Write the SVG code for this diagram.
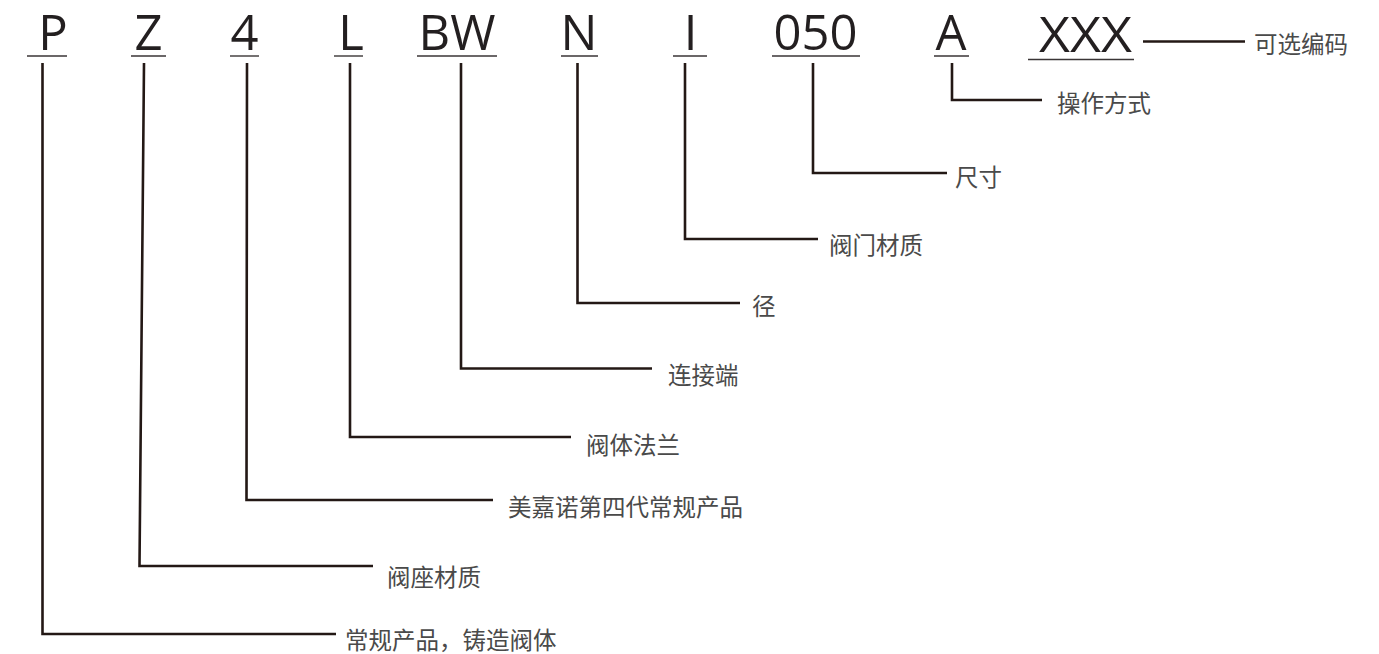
<svg xmlns="http://www.w3.org/2000/svg" width="1379" height="654" viewBox="0 0 1379 654">
<style>
.code{font-family:"Open Sans","DejaVu Sans",sans-serif;font-size:49px;fill:#231f20;text-anchor:middle}
.ul{stroke:#3a3536;stroke-width:1.4;fill:none}
.conn{stroke:#231815;stroke-width:2.6;fill:none;stroke-linejoin:miter}
.lbl{font-family:"Noto Sans CJK SC","Noto Sans",sans-serif;font-size:23.5px;fill:#4a4a4a;dominant-baseline:central}
</style>
<rect width="1379" height="654" fill="#ffffff"/>
<g id="code-P"><text class="code" x="53" y="50">P</text><line class="ul" x1="27" y1="56" x2="67" y2="56"/></g>
<g id="code-Z"><text class="code" x="148.5" y="50">Z</text><line class="ul" x1="131" y1="56" x2="166" y2="56"/></g>
<g id="code-4"><text class="code" x="244.5" y="50">4</text><line class="ul" x1="230" y1="56" x2="259" y2="56"/></g>
<g id="code-L"><text class="code" x="351" y="50">L</text><line class="ul" x1="334" y1="56" x2="363" y2="56"/></g>
<g id="code-BW"><text class="code" x="457" y="50">BW</text><line class="ul" x1="417" y1="56" x2="497" y2="56"/></g>
<g id="code-N"><text class="code" x="579" y="50">N</text><line class="ul" x1="561" y1="56" x2="598" y2="56"/></g>
<g id="code-I"><text class="code" x="690.5" y="50">I</text><line class="ul" x1="673" y1="56" x2="707" y2="56"/></g>
<g id="code-050"><text class="code" x="815.5" y="50">050</text><line class="ul" x1="772" y1="56" x2="860" y2="56"/></g>
<g id="code-A"><text class="code" x="951" y="50">A</text><line class="ul" x1="934" y1="56" x2="969" y2="56"/></g>
<g id="code-XXX"><text class="code" x="1085.5" y="52" textLength="93" lengthAdjust="spacingAndGlyphs">XXX</text><line class="ul" x1="1028" y1="59.5" x2="1134" y2="59.5"/></g>
<g id="connectors">
<path class="conn" d="M42.5 63 V634 H336"/>
<path class="conn" d="M144 63 L139.5 566 H373"/>
<path class="conn" d="M247 63 L246.5 500 H493"/>
<path class="conn" d="M350 63 V437 H571"/>
<path class="conn" d="M461 63 V368.5 H652"/>
<path class="conn" d="M577.5 63 V303 H740"/>
<path class="conn" d="M685 63 V239 H818"/>
<path class="conn" d="M813 63 V173 H947"/>
<path class="conn" d="M952 63 V100 H1042"/>
<path class="conn" d="M1143 41.5 H1245"/>
</g>
<g id="label-optional"><text class="lbl" x="1254" y="43">可选编码</text></g>
<g id="label-operation"><text class="lbl" x="1057" y="101.5">操作方式</text></g>
<g id="label-size"><text class="lbl" x="955" y="175.5">尺寸</text></g>
<g id="label-valve-material"><text class="lbl" x="829" y="243.5">阀门材质</text></g>
<g id="label-diameter"><text class="lbl" x="752" y="304.5">径</text></g>
<g id="label-connection"><text class="lbl" x="668" y="374">连接端</text></g>
<g id="label-flange"><text class="lbl" x="586" y="443.5">阀体法兰</text></g>
<g id="label-generation"><text class="lbl" x="508" y="506">美嘉诺第四代常规产品</text></g>
<g id="label-seat"><text class="lbl" x="387" y="575.5">阀座材质</text></g>
<g id="label-regular"><text class="lbl" x="345" y="639">常规产品，铸造阀体</text></g>
</svg>
